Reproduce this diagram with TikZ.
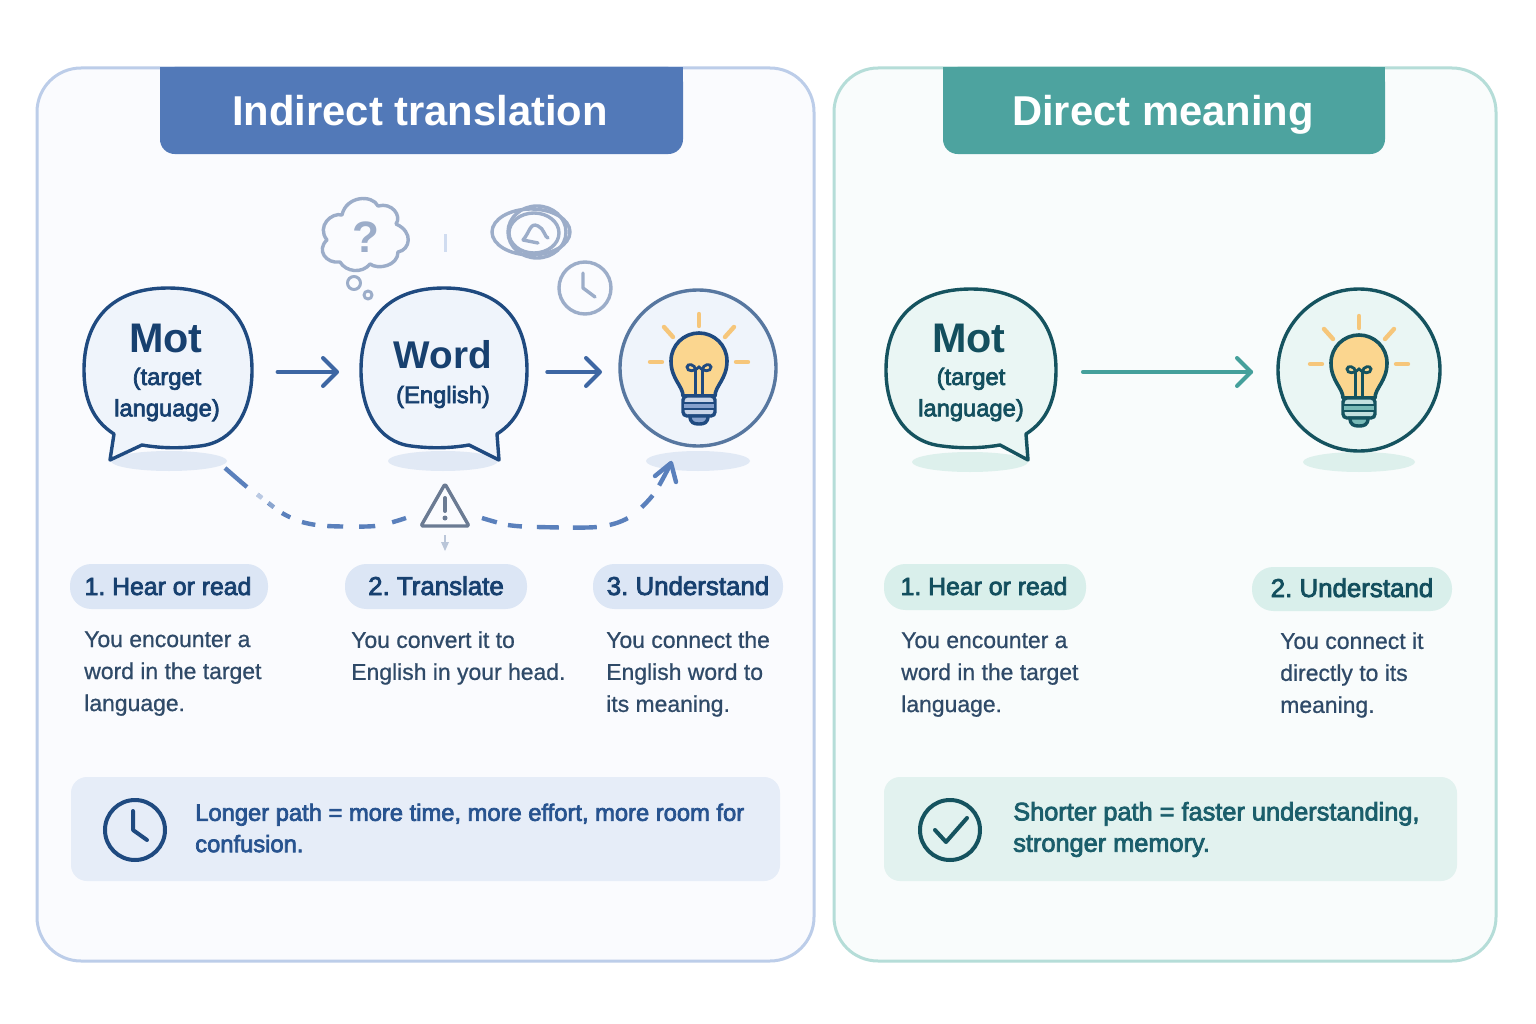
\documentclass[tikz,border=0pt]{standalone}
\usepackage{fontspec}
\setmainfont{Liberation Sans}
\newfontfamily\medfont[FakeBold=3]{Liberation Sans}
\newfontfamily\regfont[FakeBold=0.8]{Liberation Sans}
\usetikzlibrary{arrows.meta}
\definecolor{lborder}{HTML}{BCCDE9}
\definecolor{lpanel}{HTML}{FAFBFE}
\definecolor{lhead}{HTML}{5279B8}
\definecolor{lpill}{HTML}{DCE6F5}
\definecolor{lbox}{HTML}{E6EDF8}
\definecolor{lbub}{HTML}{EFF4FB}
\definecolor{ldark}{HTML}{1F4A80}
\definecolor{ltext}{HTML}{17406F}
\definecolor{lcall}{HTML}{27538F}
\definecolor{larrow}{HTML}{3D66A3}
\definecolor{lshadow}{HTML}{E1E9F5}
\definecolor{ldash}{HTML}{5A80BC}
\definecolor{lgrey}{HTML}{9CADC9}
\definecolor{rborder}{HTML}{B5DDD8}
\definecolor{rpanel}{HTML}{F9FCFC}
\definecolor{rhead}{HTML}{4DA39F}
\definecolor{rpill}{HTML}{D9EFEB}
\definecolor{rbox}{HTML}{E2F2EF}
\definecolor{rbub}{HTML}{EAF6F4}
\definecolor{rdark}{HTML}{15535F}
\definecolor{rtext}{HTML}{134F5E}
\definecolor{rcall}{HTML}{1B5E6B}
\definecolor{rarrow}{HTML}{45A09B}
\definecolor{rshadow}{HTML}{DDF0EC}
\definecolor{body}{HTML}{2F4A68}
\definecolor{bulbfill}{HTML}{FBD68F}
\definecolor{ray}{HTML}{F6C67A}
\definecolor{warn}{HTML}{6B7B93}
\tikzset{
  px/.style={line width=#1*0.75pt},
  panel/.style={rounded corners=33pt,px=3},
  head/.style={font=\fontsize{31.3}{38}\selectfont\bfseries,text=white,inner sep=0pt,anchor=base},
  pilltext/.style={font=\fontsize{#1}{23}\selectfont\medfont,inner sep=0pt,anchor=base},
  bodytext/.style={font=\fontsize{17.2}{24}\selectfont\regfont,align=left,anchor=north west,inner sep=0pt,text=body},
  boxtext/.style={font=\fontsize{#1}{23.5}\selectfont\medfont,align=left,anchor=west,inner sep=0pt},
  bigword/.style={font=\fontsize{#1}{34}\selectfont\bfseries,inner sep=0pt,anchor=base},
  subword/.style={font=\fontsize{17.8}{23.5}\selectfont\medfont,align=center,inner sep=0pt},
  holder/.style={inner sep=0pt,minimum width=#1*0.75pt,minimum height=150pt},
  flowarrow/.style={px=4,line cap=round,line join=round},
  dashline/.style={px=4.4,ldash,line cap=butt},
  icon/.style={px=3.4,lgrey,line cap=round,line join=round},
}
\newcommand{\arrowhead}[2]{\draw[flowarrow,#2] (#1) ++(-14,-14) -- (#1) -- ++(-14,14);}
\newcommand{\bulbicon}[3]{%
\begin{scope}[shift={(#1)}]
\foreach \a/\b/\c/\d in {0/-47/0/-35,-35/-34/-26/-24,35/-34/26/-24,-49/1/-37/1,37/1/49/1}
  \draw[px=4.4,ray,line cap=round] (\a,\b) -- (\c,\d);
\draw[px=3.6,#2,fill=bulbfill,line join=round] (-16,35) .. controls (-16,25) and (-28,18) .. (-28,0)
  .. controls (-28,-16) and (-15,-28) .. (0,-28) .. controls (15,-28) and (28,-16) .. (28,0)
  .. controls (28,18) and (16,25) .. (16,35) -- cycle;
\draw[px=2.8,#2] (-3.5,35) -- (-3.5,9) .. controls (-3.5,3) and (-12,2) .. (-12,6) .. controls (-12,11) and (-4,11) .. (0,6)
  .. controls (4,11) and (12,11) .. (12,6) .. controls (12,2) and (3.5,3) .. (3.5,9) -- (3.5,35);
\draw[px=3.4,#2,fill=#3!45!white,rounded corners=3pt] (-16,35) rectangle (16,55);
\fill[#3] (-15,42) rectangle (15,48);
\draw[px=2.6,#2] (-16,42) -- (16,42) (-16,48) -- (16,48);
\draw[px=3.4,#2,fill=#3] (-9,55) .. controls (-9,62) and (-5,63) .. (0,63) .. controls (5,63) and (9,62) .. (9,55) -- cycle;
\end{scope}}
\begin{document}
\frenchspacing
\begin{tikzpicture}[x=0.75pt,y=-0.75pt]
\useasboundingbox (0,0) rectangle (1536,1024);
\fill[white] (0,0) rectangle (1536,1024);
% panels
\draw[panel,draw=lborder,fill=lpanel] (37,68) rectangle (814,961);
\draw[panel,draw=rborder,fill=rpanel] (834,68) rectangle (1496,961);
% headers
\fill[lhead,rounded corners=11pt] (160,67) -- (683,67) -- (683,154) -- (160,154) -- cycle;
\fill[lhead] (160,67) rectangle (683,100);
\fill[rhead,rounded corners=11pt] (943,67) -- (1385,67) -- (1385,154) -- (943,154) -- cycle;
\fill[rhead] (943,67) rectangle (1385,100);
\node[head] (hl) at (420,126) {Indirect translation};
\node[head] (hr) at (1163,126) {Direct meaning};
% shadows
\fill[lshadow] (169,461) ellipse (58 and 10);
\fill[lshadow] (443,461) ellipse (55 and 10);
\fill[lshadow] (698,461) ellipse (52 and 10);
\fill[rshadow] (970,462) ellipse (58 and 10);
\fill[rshadow] (1359,462) ellipse (56 and 10);
% bubbles
\draw[px=3.4,ldark,fill=lbub,line join=round] (142,445) .. controls (165,449) and (185,448) .. (200,446)
 .. controls (235,442) and (252,410) .. (252,370) .. controls (252,320) and (225,288) .. (168,288)
 .. controls (112,288) and (84,320) .. (84,370) .. controls (84,398) and (92,420) .. (114,434) -- (110,460) -- cycle;
\draw[px=3.4,ldark,fill=lbub,line join=round] (469,445) .. controls (446,449) and (426,448) .. (411,446)
 .. controls (378,442) and (361,410) .. (361,370) .. controls (361,320) and (388,288) .. (444,288)
 .. controls (500,288) and (527,320) .. (527,370) .. controls (527,398) and (519,420) .. (497,434) -- (499,460) -- cycle;
\draw[px=3.4,rdark,fill=rbub,line join=round] (1000,445) .. controls (977,449) and (957,448) .. (942,446)
 .. controls (905,442) and (886,410) .. (886,370) .. controls (886,320) and (915,289) .. (971,289)
 .. controls (1027,289) and (1056,320) .. (1056,370) .. controls (1056,398) and (1048,420) .. (1026,434) -- (1028,460) -- cycle;
% holders
\node[holder=168] (mot) at (168,372) {};
\node[holder=166] (word) at (444,372) {};
\node[holder=156] (idea) at (698,372) {};
\node[holder=170] (motr) at (971,372) {};
\node[holder=162] (idear) at (1359,372) {};
% bubble text
\node[bigword=31,text=ltext] (t1) at (166,352) {Mot};
\node[subword,text=ltext] (t1b) at (167,394.5) {(target\\language)};
\node[bigword=29,text=ltext] (t2) at (443,368) {Word};
\node[subword,text=ltext] (t2b) at (443,397) {(English)};
\node[bigword=31,text=rtext] (t3) at (969,352) {Mot};
\node[subword,text=rtext] (t3b) at (971,394.5) {(target\\language)};
% circles
\draw[px=3.4,color=ldark!75!white,fill=lbub] (698,368) circle (78);
\draw[px=3.4,rdark,fill=rbub] (1359,370) circle (81);
\bulbicon{699,361}{ldark}{lhead!70!white}
\bulbicon{1359,363}{rdark}{rhead!75!white}
% arrows
\draw[flowarrow,larrow,shorten <=19pt,shorten >=18pt] (mot.east) -- (word.west);
\draw[flowarrow,larrow,shorten <=15pt,shorten >=15.5pt] (word.east) -- (idea.west);
\draw[flowarrow,rarrow,shorten <=20pt,shorten >=20pt] (motr.east) -- (idear.west);
\coordinate (a1) at (337,372); \arrowhead{a1}{larrow}
\coordinate (a2) at (600,372); \arrowhead{a2}{larrow}
\coordinate (a3) at (1251,372); \arrowhead{a3}{rarrow}
% thought icons
\draw[icon] (340,262) .. controls (326,264) and (316,250) .. (327,240) .. controls (316,226) and (332,212) .. (342,215)
 .. controls (346,196) and (372,194) .. (378,206) .. controls (392,202) and (402,216) .. (396,224)
 .. controls (414,232) and (410,250) .. (398,252) .. controls (398,266) and (378,270) .. (370,264)
 .. controls (362,274) and (346,272) .. (340,262) -- cycle;
\node[font=\fontsize{33}{36}\selectfont\bfseries,text=lgrey,inner sep=0pt] (qm) at (366,237) {?};
\draw[icon,px=3] (354,283) circle (6.5);
\draw[icon,px=3] (368,295) circle (4);
\draw[px=3,lborder!70!white] (445,234) -- (445,252);
% scribble
\begin{scope}[icon]
\draw (531,232) ellipse (39 and 23);
\draw (537,232) ellipse (29 and 26);
\draw (534,233) ellipse (25 and 20);
\draw (523,240) .. controls (530,232) and (530,222) .. (538,226) .. controls (544,228) and (545,238) .. (548,238) (523,240) -- (538,243);
\end{scope}
% clock small
\draw[icon] (585,288) circle (26);
\draw[icon] (583,273) -- (583,288) -- (595,297);
% dashed path
\coordinate (ds) at (225,468);
\coordinate (dm1) at (406,518);
\coordinate (dm2) at (482,518);
\coordinate (de) at (671,463);
\draw[dashline,dash pattern=on 21.8pt off 9.6pt on 4.3pt off 6pt on 5.3pt off 7.5pt on 7pt off 9.5pt on 10.2pt off 9pt on 12pt off 12pt on 12pt off 13pt on 11pt]
  plot[smooth,tension=0.5] coordinates {(ds) (247,487) (262,498) (282,513) (302,522) (327,526) (375,526) (dm1)};
\draw[px=5,lpanel,opacity=0.6] (257,495) -- (262,498);
\draw[px=5,lpanel,opacity=0.3] (269,502) -- (274,507);
\draw[dashline,dash pattern=on 11.6pt off 8.6pt on 10.5pt off 11.2pt on 16.5pt off 10.5pt on 18pt off 9.8pt on 14.5pt off 13.3pt on 12.2pt off 8.8pt on 40pt]
  plot[smooth,tension=0.5] coordinates {(dm2) (508,525) (537,527) (597,527) (628,518) (653,495) (de)};
\draw[px=4.4,ldash,line cap=round,line join=round] (655,476) -- (de) -- (676,482);
% warning
\draw[px=3.4,warn,line join=round,rounded corners=1.5pt] (445,484) -- (469,526) -- (421,526) -- cycle;
\draw[px=4,warn,line cap=round] (445,498) -- (445,511);
\fill[warn] (445,518) circle (2.5);
\draw[px=2.4,lgrey!70!white] (445,535) -- (445,546);
\fill[lgrey!70!white] (441,542) -- (449,542) -- (445,551) -- cycle;
% pills
\foreach \n/\a/\b/\c/\d/\f in {p1/70/564/268/609/lpill,p2/345/564/527/609/lpill,p3/593/564/783/609/lpill,p4/884/564/1086/610/rpill,p5/1252/567/1452/611/rpill}
  \fill[\f,rounded corners=16pt] (\a,\b) rectangle (\c,\d);
\node[pilltext=18.6,text=ltext] (pt1) at (168,595) {1. Hear or read};
\node[pilltext=19.4,text=ltext] (pt2) at (436,595) {2. Translate};
\node[pilltext=19.4,text=ltext] (pt3) at (688,595) {3. Understand};
\node[pilltext=18.6,text=rtext] (pt4) at (984,595) {1. Hear or read};
\node[pilltext=19.4,text=rtext] (pt5) at (1352,597) {2. Understand};
% body
\node[bodytext] (b1) at (84,631) {You encounter a\\word in the target\\language.};
\node[bodytext] (b2) at (351,631) {You convert it to\\English in your head.};
\node[bodytext] (b3) at (606,631) {You connect the\\English word to\\its meaning.};
\node[bodytext] (b4) at (901,632) {You encounter a\\word in the target\\language.};
\node[bodytext] (b5) at (1280,632) {You connect it\\directly to its\\meaning.};
% callouts
\fill[lbox,rounded corners=12pt] (71,777) rectangle (780,881);
\fill[rbox,rounded corners=12pt] (884,777) rectangle (1457,881);
\draw[px=4,ldark] (135,830) circle (30);
\draw[px=4,ldark,line cap=round,line join=round] (133,811) -- (133,830) -- (147,840);
\draw[px=4,rdark] (950,830) circle (30);
\draw[px=4,rdark,line cap=round,line join=round] (935,830) -- (946,842) -- (967,818);
\node[boxtext=17.8,text=lcall] (c1) at (195,828) {Longer path = more time, more effort, more room for\\confusion.};
\node[boxtext=19,text=rcall] (c2) at (1013,829.5) {Shorter path = faster understanding,\\stronger memory.};
\end{tikzpicture}
\end{document}
